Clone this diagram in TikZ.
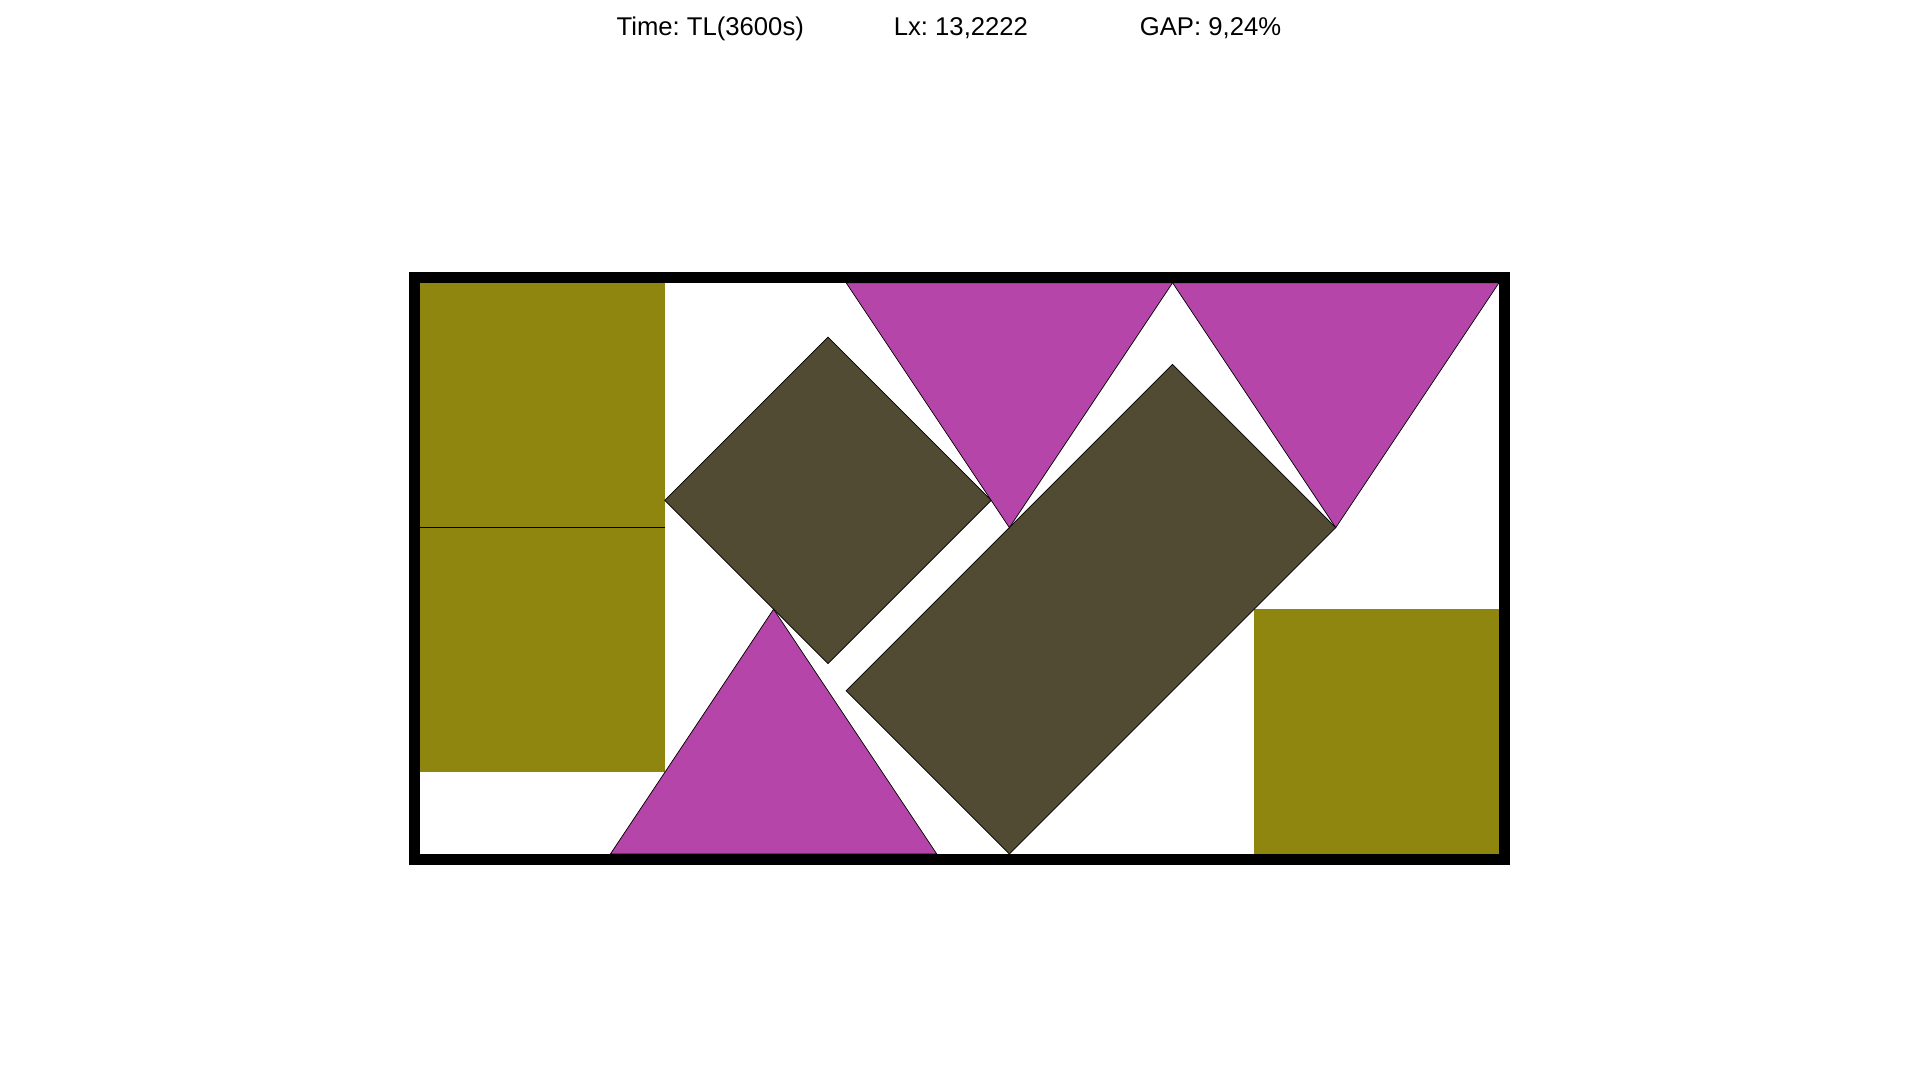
\documentclass[tikz,border=0pt]{standalone}
\usepackage{fontspec}
\setmainfont{Liberation Sans}
\frenchspacing
\definecolor{olivebox}{RGB}{143,134,15}
\definecolor{magtri}{RGB}{181,69,168}
\definecolor{darkbox}{RGB}{81,75,52}
\tikzset{
  squarepiece/.style={fill=olivebox},
  tripiece/.style={fill=magtri, draw=black, line width=0.25pt},
  rectpiece/.style={fill=darkbox, draw=black, line width=0.25pt},
  container/.style={draw=black, line width=0.1348cm},
  header/.style={anchor=base west, inner sep=0pt, font=\fontsize{8.95}{10}\selectfont}
}
\begin{document}
\begin{tikzpicture}
\useasboundingbox[fill=white] (-5.147,-2.770) rectangle (18.382,10.466);
% header
\node[header] (time) at (2.402,10.025) {Time: TL(3600s)};
\node[header] (lx) at (5.800,10.025) {Lx: 13,2222};
\node[header] (gap) at (8.815,10.025) {GAP: 9,24\%};
% olive squares
\fill[squarepiece] (0,4) rectangle (3,7);
\fill[squarepiece] (0,1) rectangle (3,4);
\draw[black, line width=0.35pt] (0,4) -- (3,4);
\fill[squarepiece] (10.2222,0) rectangle (13.2222,3);
% dark rotated pieces
\filldraw[rectpiece] (3,4.3333) -- (5,6.3333) -- (7,4.3333) -- (5,2.3333) -- cycle;
\filldraw[rectpiece] (7.2222,0) -- (11.2222,4) -- (9.2222,6) -- (5.2222,2) -- cycle;
% magenta triangles
\filldraw[tripiece] (2.3333,0) -- (6.3333,0) -- (4.3333,3) -- cycle;
\filldraw[tripiece] (5.2222,7) -- (9.2222,7) -- (7.2222,4) -- cycle;
\filldraw[tripiece] (9.2222,7) -- (13.2222,7) -- (11.2222,4) -- cycle;
% container
\draw[container] (-0.0674,-0.0674) rectangle (13.2896,7.0674);
\end{tikzpicture}
\end{document}
